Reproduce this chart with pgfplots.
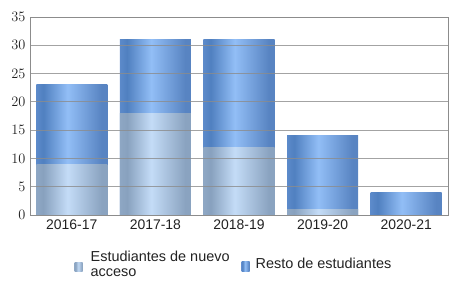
\documentclass[border=0pt]{standalone}
\usepackage{fontspec}
\setmainfont{Liberation Sans}
\usepackage{pgfplots}
\pgfplotsset{compat=1.18}
\definecolor{tE}{HTML}{5C8ACA}
\definecolor{tD}{HTML}{5080C0}
\definecolor{tL}{HTML}{92BEF6}
\definecolor{tR}{HTML}{5884C2}
\definecolor{bE}{HTML}{8EA7C4}
\definecolor{bD}{HTML}{88A1BE}
\definecolor{bL}{HTML}{C4DCF7}
\definecolor{bR}{HTML}{8AA3C0}
\definecolor{txt}{HTML}{222222}
\pgfdeclarehorizontalshading{topbar}{100bp}{color(0bp)=(tE); color(25bp)=(tE); color(30bp)=(tD); color(47bp)=(tL); color(71bp)=(tR); color(75bp)=(tR); color(100bp)=(tR)}
\pgfdeclarehorizontalshading{botbar}{100bp}{color(0bp)=(bE); color(25bp)=(bE); color(30bp)=(bD); color(47bp)=(bL); color(71bp)=(bR); color(75bp)=(bR); color(100bp)=(bR)}
\pgfplotsset{
  topb/.style={ybar, bar width=71bp, bar shift=0pt, draw=none, shade, shading=topbar, forget plot},
  botb/.style={ybar, bar width=71bp, bar shift=0pt, draw=none, shade, shading=botbar, forget plot},
}
\begin{document}
\begin{tikzpicture}[x=1bp,y=1bp]
\begin{axis}[
  at={(0,0)}, anchor=south west,
  scale only axis,
  width=418bp, height=198bp,
  ymin=0, ymax=35,
  ytick={0,5,...,35},
  xmin=-0.5, xmax=4.5,
  xtick={0,1,2,3,4},
  xticklabels={2016-17,2017-18,2018-19,2019-20,2020-21},
  major tick length=0pt,
  ymajorgrids,
  major grid style={draw=black!45, line width=0.9pt, opacity=0.8},
  axis on top,
  axis line style={draw=black!45, line width=0.9pt},
  tick label style={font=\fontsize{14}{16}\selectfont, text=txt},
  yticklabel style={xshift=-1bp},
  xticklabel style={yshift=-1bp},
  legend style={at={(0.488,-0.25)}, anchor=center, draw=none, fill=none,
    legend columns=2, font=\fontsize{14.5}{15.5}\selectfont,
    text=txt, cells={align=left}, /tikz/every even column/.append style={column sep=10bp}},
  legend cell align=left,
]
\addlegendimage{draw=none, legend image code/.code={\path (0bp,-7bp) rectangle (14bp,7bp); \shade[draw=none, shading=botbar] (0bp,-6.5bp) rectangle (8bp,2.5bp);}}
\addlegendentry{Estudiantes de nuevo\\acceso}
\addlegendimage{draw=none, legend image code/.code={\path (0bp,-7bp) rectangle (12bp,7bp); \shade[draw=none, shading=topbar] (0bp,-7bp) rectangle (8bp,3bp);}}
\addlegendentry{Resto de estudiantes}
% totals (top series drawn full height, lower series on top)
\addplot[topb] coordinates {(0,23)};
\addplot[topb] coordinates {(1,31)};
\addplot[topb] coordinates {(2,31)};
\addplot[topb] coordinates {(3,14)};
\addplot[topb] coordinates {(4,4)};
% Estudiantes de nuevo acceso
\addplot[botb] coordinates {(0,9)};
\addplot[botb] coordinates {(1,18)};
\addplot[botb] coordinates {(2,12)};
\addplot[botb] coordinates {(3,1)};
\draw[black, line width=1pt] (rel axis cs:0,1) -- (rel axis cs:0,0) -- (rel axis cs:1,0);
\end{axis}
\path (-30bp,-90bp) rectangle (426bp,215bp);
\end{tikzpicture}
\end{document}
